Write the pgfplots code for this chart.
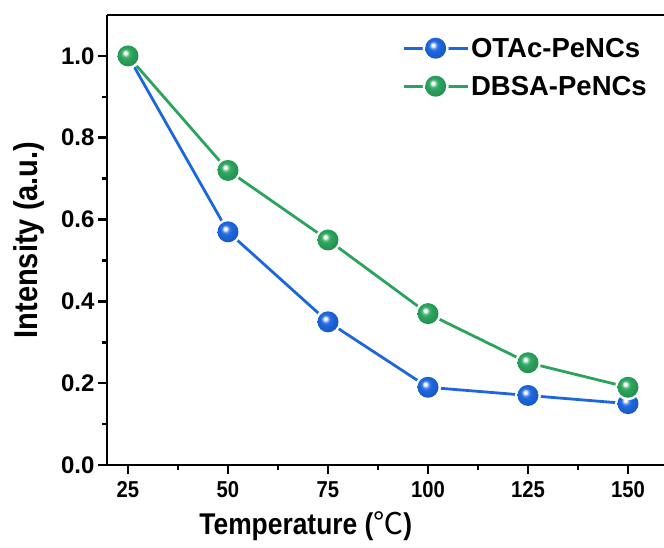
\documentclass[border=0pt]{standalone}
\usepackage{pgfplots}
\pgfplotsset{compat=1.18}
\usepackage{fontspec}
\setmainfont{Liberation Sans}
\newfontfamily\cond{Liberation Sans}[FakeStretch=0.88]
\newfontfamily\cjk{Noto Sans CJK SC}
\definecolor{myblue}{RGB}{28,102,222}
\definecolor{mygreen}{RGB}{42,164,92}
\pgfdeclareradialshading{ballblue}{\pgfqpoint{-7bp}{8bp}}{color(0bp)=(white); color(3bp)=(white); color(9bp)=(myblue!85!white); color(14bp)=(myblue); color(30bp)=(myblue!85!black); color(50bp)=(myblue!85!black)}
\pgfdeclareradialshading{ballgreen}{\pgfqpoint{-7bp}{8bp}}{color(0bp)=(white); color(3bp)=(white); color(9bp)=(mygreen!85!white); color(14bp)=(mygreen); color(30bp)=(mygreen!85!black); color(50bp)=(mygreen!85!black)}
\pgfdeclareplotmark{gapballblue}{%
  \pgfmathsetlengthmacro\outr{\pgfplotmarksize+2.5pt}%
  \pgfsetfillcolor{white}%
  \pgfpathcircle{\pgfpointorigin}{\outr}%
  \pgfusepath{fill}%
  \pgfpathcircle{\pgfpointorigin}{\pgfplotmarksize}%
  \pgfshadepath{ballblue}{0}%
  \pgfusepath{discard}%
}
\pgfdeclareplotmark{gapballgreen}{%
  \pgfmathsetlengthmacro\outr{\pgfplotmarksize+2.5pt}%
  \pgfsetfillcolor{white}%
  \pgfpathcircle{\pgfpointorigin}{\outr}%
  \pgfusepath{fill}%
  \pgfpathcircle{\pgfpointorigin}{\pgfplotmarksize}%
  \pgfshadepath{ballgreen}{0}%
  \pgfusepath{discard}%
}
\begin{document}
\begin{tikzpicture}
\begin{axis}[
  scale only axis,
  width=557pt, height=450pt,
  xmin=19.75, xmax=159, ymin=0, ymax=1.1,
  axis x line*=box, axis y line*=left,
  xtick pos=bottom, ytick pos=left,
  xtick={25,50,75,100,125,150},
  ytick={0,0.2,0.4,0.6,0.8,1.0},
  minor x tick num=1, minor y tick num=1,
  tick align=outside,
  major tick length=9pt, minor tick length=5pt,
  every tick/.style={black, line width=2.5pt},
  axis line style={line width=2.6pt},
  /pgf/number format/assume math mode=true,
  xticklabel style={font=\cond\bfseries\fontsize{23}{26}\selectfont, yshift=-4pt},
  yticklabel style={font=\bfseries\fontsize{24}{26}\selectfont,
    /pgf/number format/.cd,fixed,fixed zerofill,precision=1},
  xlabel={Temperature ({\cjk\mdseries ℃})},
  ylabel={Intensity (a.u.)},
  x label style={font=\cond\bfseries\fontsize{30}{34}\selectfont,
    at={(ticklabel cs:0.357)}, anchor=north, yshift=-7pt},
  y label style={font=\cond\bfseries\fontsize{33}{36}\selectfont,
    at={(axis description cs:-0.14,0.5)}, anchor=center},
  legend style={draw=none, fill=none, at={(1,1)}, anchor=north east,
    xshift=-12pt, yshift=-18pt,
    font=\bfseries\fontsize{27.5}{31}\selectfont, row sep=12pt},
  legend cell align=left,
  legend image code/.code={\draw[mark repeat=2,mark phase=2,#1] plot coordinates {(0pt,0pt)(32pt,0pt)(64pt,0pt)};},
]
\coordinate (SW) at (rel axis cs:0,0);
\coordinate (NE) at (rel axis cs:1,1);
\addplot[myblue, line width=2.8pt, mark=gapballblue, mark size=10.5pt]
  coordinates {(25,1.0)(50,0.57)(75,0.35)(100,0.19)(125,0.17)(150,0.15)};
\addlegendentry{OTAc-PeNCs}
\addplot[mygreen, line width=2.8pt, mark=gapballgreen, mark size=10.5pt]
  coordinates {(25,1.0)(50,0.72)(75,0.55)(100,0.37)(125,0.25)(150,0.19)};
\addlegendentry{DBSA-PeNCs}
\end{axis}
\pgfresetboundingbox
\path ([xshift=-107pt,yshift=-83pt]SW) rectangle ([yshift=15pt]NE);
\end{tikzpicture}
\end{document}
